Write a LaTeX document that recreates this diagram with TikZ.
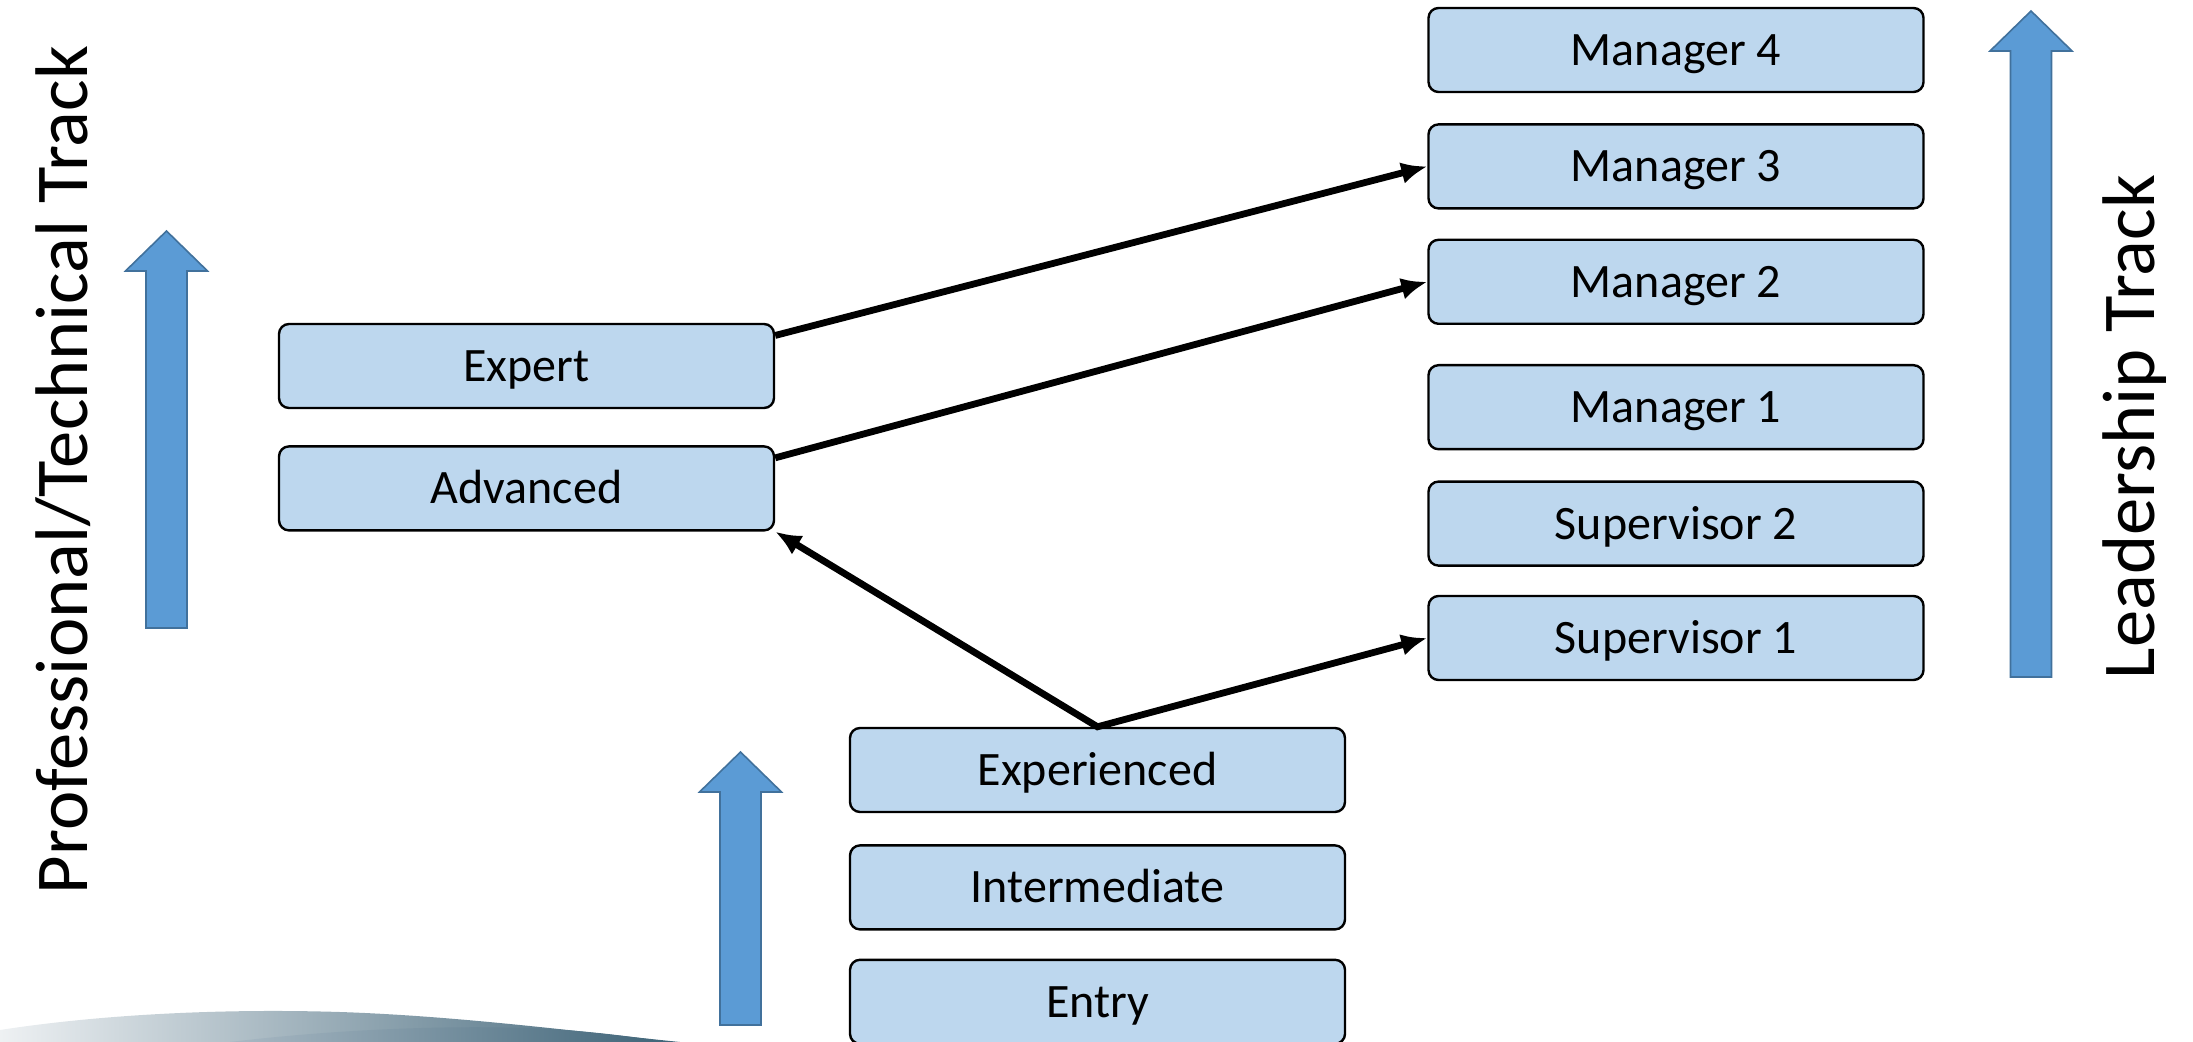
\documentclass[tikz,border=0pt]{standalone}
\usepackage{fontspec}
\setmainfont{Carlito}
\usepackage{tikz}
\usetikzlibrary{arrows.meta,positioning}

\definecolor{boxblue}{HTML}{BDD7EE}
\definecolor{arrowblue}{HTML}{5B9BD5}
\definecolor{arrowedge}{HTML}{41719C}
\definecolor{swooshlight}{HTML}{EEF1F3}
\definecolor{swooshmid}{HTML}{A9B9C4}
\definecolor{swooshdark}{HTML}{3F6478}

\begin{document}
\begin{tikzpicture}[auto,>={Latex[length=13pt,width=11pt]},x=0.5pt,y=-0.5pt]
	\tikzstyle{block} = [draw, rounded corners=5pt, fill=boxblue, line width=1.2pt, minimum height=42pt, minimum width=247.5pt, inner sep=0pt, text height=20pt, text depth=4.5pt, font=\fontsize{24}{28}\selectfont]
	\tikzstyle{track} = [rotate=90, inner sep=0pt, font=\fontsize{37.3}{40}\selectfont]
	\tikzstyle{link} = [line width=3.4pt, line join=miter]
	\tikzstyle{bigarrow} = [fill=arrowblue, draw=arrowedge, line width=0.8pt]
	
	\useasboundingbox (0,0) rectangle (2193,1042);
	
	% swoosh at the bottom left
	\shade [left color=swooshlight, right color=swooshdark] (0,1042) -- (0,1030) .. controls (90,1016) and (210,1008) .. (340,1012) .. controls (460,1016) and (580,1032) .. (680,1042) -- cycle;
	\shade [left color=swooshmid, right color=swooshdark] (230,1042) .. controls (330,1030) and (450,1024) .. (550,1029) .. controls (600,1032) and (640,1038) .. (670,1042) -- cycle;
	
	% track arrows
	\foreach \ax/\atip/\abot in {166.5/231/628, 740.5/752/1025, 2031/11/677}
		\draw [bigarrow] (\ax-20.5,\abot) -- (\ax-20.5,\atip+40) -- (\ax-41,\atip+40) -- (\ax,\atip) -- (\ax+41,\atip+40) -- (\ax+20.5,\atip+40) -- (\ax+20.5,\abot) -- cycle;
	
	\node [track] (proftrack) at (63,470) {Professional/Technical Track};
	\node [track] (leadtrack) at (2135,427) {Leadership Track};
	
	% leadership boxes
	\node [block] (man4) at (1676,50) {Manager 4};
	\node [block, below = 15pt of man4] (man3) {Manager 3};
	\node [block, below = 14.5pt of man3] (man2) {Manager 2};
	\node [block, below = 19.5pt of man2] (man1) {Manager 1};
	\node [block, below = 15pt of man1] (sup2) {Supervisor 2};
	\node [block, below = 14pt of sup2] (sup1) {Supervisor 1};
	
	% professional boxes
	\node [block] (expert) at (526.5,366) {Expert};
	\node [block, below = 18pt of expert] (advanced) {Advanced};
	
	% entry boxes
	\node [block] (experienced) at (1097.5,770) {Experienced};
	\node [block, below = 15.5pt of experienced] (intermediate) {Intermediate};
	\node [block, below = 14pt of intermediate] (entry) {Entry};
	
	\draw [link, ->] (expert.7) -- (man3.west);
	\draw [link, ->] (advanced.7) -- (man2.west);
	\draw [link, <->] (advanced.south east) -- (experienced.north) -- (sup1.west);
\end{tikzpicture}
\end{document}
